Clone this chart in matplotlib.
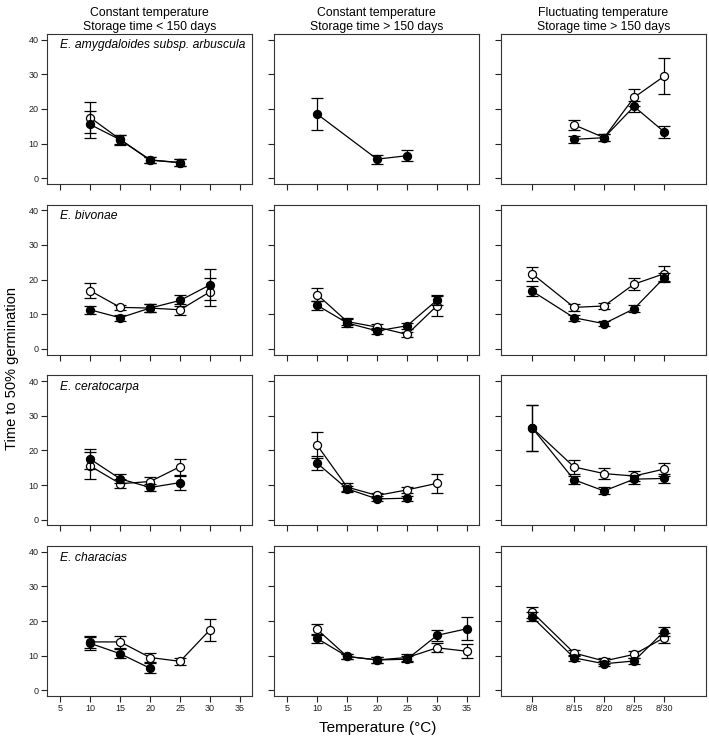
import numpy as np
import matplotlib
matplotlib.use('Agg')
from matplotlib import pyplot as plt
from matplotlib import transforms

nan = np.nan

# x positions: constant temperature (cols 1-2) and fluctuating (col 3, upper temp)
const_x = [10, 15, 20, 25, 30, 35]
const_ticks = [5, 10, 15, 20, 25, 30, 35]
fluct_x = [8, 15, 20, 25, 30]
fluct_labels = ['8/8', '8/15', '8/20', '8/25', '8/30']

col_titles = ['Constant temperature\nStorage time < 150 days',
              'Constant temperature\nStorage time > 150 days',
              'Fluctuating temperature\nStorage time > 150 days']
species = ['E. amygdaloides subsp. arbuscula', 'E. bivonae', 'E. ceratocarpa', 'E. characias']

# each list: [col1, col2, col3]
amyg_filled = [[15.5, 11.1, 5.2, 4.5, nan, nan], [18.5, nan, 5.5, 6.5, nan, nan], [nan, 11.2, 11.7, 20.7, 13.4]]
amyg_filled_err = [[3.9, 1.4, 0.9, 1.1, nan, nan], [4.6, nan, 1.3, 1.6, nan, nan], [nan, 1.0, 1.1, 1.5, 1.7]]
amyg_open = [[17.5, 11.2, 5.3, 4.5, nan, nan], [nan] * 6, [nan, 15.4, 11.7, 23.3, 29.4]]
amyg_open_err = [[4.4, 1.3, 0.9, 1.1, nan, nan], [nan] * 6, [nan, 1.5, 1.1, 2.4, 5.2]]

biv_filled = [[11.3, 9.0, 11.8, 14.0, 18.5, nan], [12.6, 7.5, 5.2, 6.7, 14.1, nan], [16.7, 9.0, 7.3, 11.6, 20.5]]
biv_filled_err = [[1.1, 0.8, 1.1, 1.6, 4.5, nan], [1.3, 1.2, 0.8, 0.8, 1.5, nan], [1.4, 0.9, 0.7, 1.0, 1.3]]
biv_open = [[16.8, 12.0, 11.8, 11.3, 16.5, nan], [15.7, 7.9, 6.3, 4.2, 12.5, nan], [21.7, 12.0, 12.4, 18.7, 21.7]]
biv_open_err = [[2.1, 0.8, 1.1, 1.6, 4.0, nan], [1.9, 1.0, 0.9, 0.7, 2.9, nan], [2.0, 1.0, 1.0, 1.7, 2.2]]

cer_filled = [[17.5, 11.8, 9.3, 10.7, nan, nan], [16.3, 8.9, 6.0, 6.2, nan, nan], [26.5, 11.5, 8.3, 11.7, 11.9]]
cer_filled_err = [[3.0, 1.3, 0.9, 2.0, nan, nan], [2.0, 0.9, 0.7, 0.7, nan, nan], [6.6, 1.2, 1.0, 1.3, 1.3]]
cer_open = [[15.5, 10.4, 11.0, 15.3, nan, nan], [21.5, 9.4, 7.0, 8.6, 10.5, nan], [26.5, 15.2, 13.3, 12.6, 14.6]]
cer_open_err = [[3.9, 1.2, 1.3, 2.3, nan, nan], [3.8, 1.2, 0.8, 0.9, 2.7, nan], [6.6, 2.0, 1.6, 1.4, 1.9]]

char_filled = [[13.6, 10.6, 6.4, nan, nan, nan], [15.0, 9.8, 8.8, 9.0, 15.9, 17.8], [21.2, 9.4, 7.7, 8.5, 17.0]]
char_filled_err = [[1.8, 1.3, 1.5, nan, nan, nan], [1.3, 0.8, 0.8, 0.9, 1.5, 3.3], [1.3, 0.8, 0.7, 0.8, 1.4]]
char_open = [[14.0, 14.0, 9.5, 8.4, 17.5, nan], [17.6, 9.8, 8.8, 9.5, 12.3, 11.3], [22.6, 10.8, 8.5, 10.4, 15.2]]
char_open_err = [[1.8, 1.8, 1.4, 1.0, 3.1, nan], [1.5, 0.8, 0.8, 0.9, 1.3, 2.0], [1.6, 1.0, 0.8, 0.9, 1.4]]

rows = [(amyg_filled, amyg_filled_err, amyg_open, amyg_open_err),
        (biv_filled, biv_filled_err, biv_open, biv_open_err),
        (cer_filled, cer_filled_err, cer_open, cer_open_err),
        (char_filled, char_filled_err, char_open, char_open_err)]

plt.rcParams['font.family'] = ['Liberation Sans', 'DejaVu Sans']

fig, axes = plt.subplots(4, 3, figsize=(7.09, 7.38), dpi=100)
plt.subplots_adjust(left=47/709, right=706/709, bottom=42/738, top=704/738, wspace=0.107, hspace=0.14)


def draw(ax, x, y, e, filled):
    x = np.array(x, float); y = np.array(y, float); e = np.array(e, float)
    m = ~np.isnan(y)
    if not m.any():
        return
    z = 3 if filled else 2
    ax.errorbar(x[m], y[m], yerr=e[m], fmt='none', ecolor='black', elinewidth=0.9,
                capsize=4, capthick=0.9, zorder=z)
    ax.plot(x[m], y[m], '-o', color='black', lw=0.9, ms=5.8, mew=0.9,
            mfc='black' if filled else 'white', mec='black', zorder=z + 0.5)


for r in range(4):
    f, fe, o, oe = rows[r]
    for c in range(3):
        ax = axes[r, c]
        x = fluct_x if c == 2 else const_x
        draw(ax, x, o[c], oe[c], False)
        draw(ax, x, f[c], fe[c], True)

        ax.set_xlim(2.8, 37)
        ax.set_ylim(-1.6, 41.6)
        ax.set_yticks([0, 10, 20, 30, 40])
        if c == 2:
            ax.set_xticks(fluct_x)
            ax.set_xticklabels(fluct_labels)
        else:
            ax.set_xticks(const_ticks)
        if r < 3:
            ax.set_xticklabels([])
        if c > 0:
            ax.set_yticklabels([])
        ax.tick_params(direction='out', length=4, width=0.8, labelsize=6.5, pad=2, colors='#222222')
        for s in ax.spines.values():
            s.set_linewidth(0.8)
            s.set_color('#333333')
        if c == 0:
            tr = transforms.blended_transform_factory(ax.transAxes, ax.transData)
            ax.text(0.063, 38.3, species[r], style='italic', fontsize=8.7, transform=tr, va='center')
        if r == 0:
            ax.set_title(col_titles[c], fontsize=8.8, pad=3, linespacing=1.15)

fig.text(12/709, 0.5, 'Time to 50% germination', rotation=90, va='center', ha='center', fontsize=10.5)
fig.text(378/709, 1 - 728/738, 'Temperature (\u00b0C)', va='center', ha='center', fontsize=11)

plt.savefig('out.png', dpi=100)
